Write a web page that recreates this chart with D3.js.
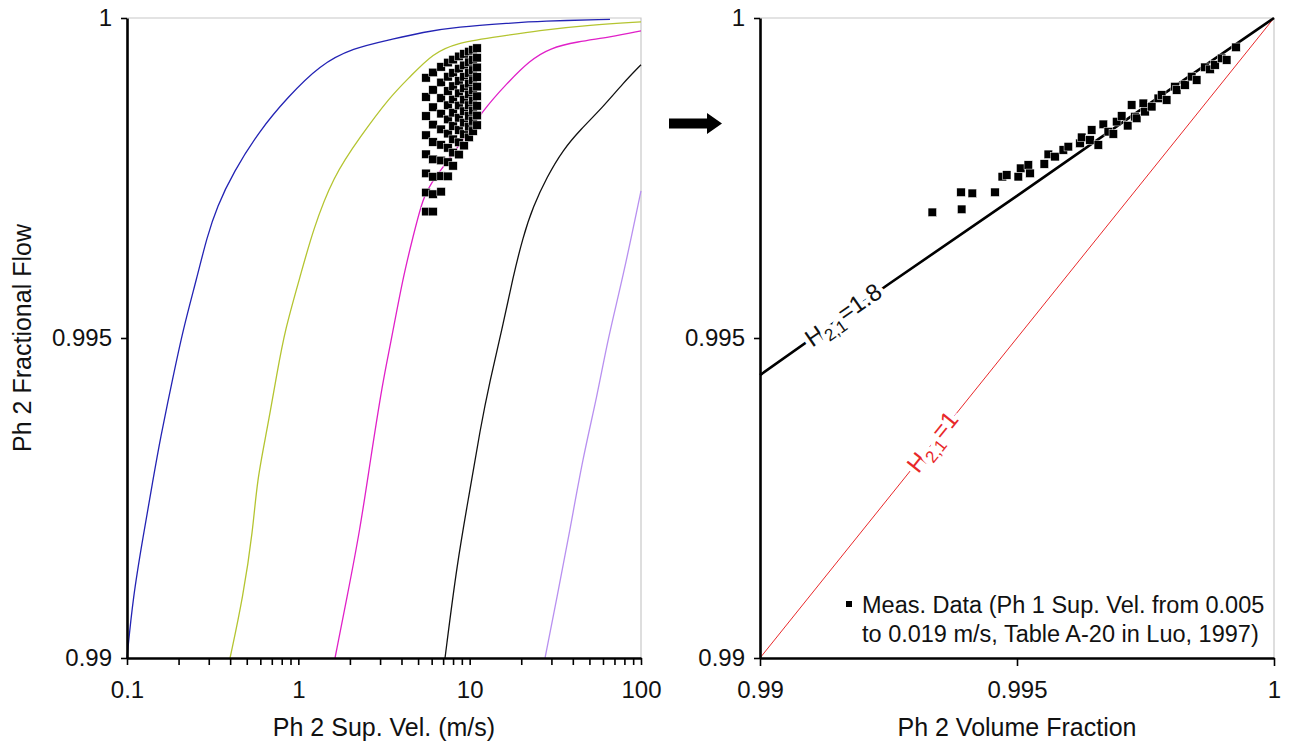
<!DOCTYPE html>
<html>
<head>
<meta charset="utf-8">
<script src="https://cdn.jsdelivr.net/npm/d3@7"></script>
<style>
  body { margin: 0; background: #fff; }
  text { font-family: "Liberation Sans", Arial, sans-serif; fill: #111; }
</style>
</head>
<body>
<svg id="chart" width="1293" height="746"></svg>
<script>
// ---- left chart: model curves, [Ph 2 sup. vel (m/s), Ph 2 fractional flow]
var blueCurve = [[0.1,0.99],[0.1084,0.99095],[0.124,0.99189],[0.1418,0.99278],[0.1558,0.99341],[0.1856,0.99439],
  [0.2123,0.99513],[0.2563,0.99595],[0.293,0.99658],[0.3351,0.99705],[0.4156,0.99758],[0.5974,0.99825],
  [0.8587,0.99875],[1.338,0.99927],[2.085,0.99953],[3.428,0.99966],[5.34,0.99978],[8.44,0.99986],
  [17.2,0.99992],[25.7,0.99995],[65.9,0.99998]];
var yellowCurve = [[0.3994,0.99],[0.4755,0.99095],[0.5437,0.992],[0.574,0.99278],[0.6566,0.99356],[0.7507,0.99445],
  [0.836,0.99513],[1.0226,0.99595],[1.2178,0.99669],[1.594,0.99752],[2.29,0.99814],[3.428,0.99877],
  [4.486,0.99908],[6.109,0.99945],[8.435,0.99961],[13.14,0.99969],[25.74,0.99981],[50.4,0.99989],[100,0.99994]];
var magentaCurve = [[1.637,0.99],[1.924,0.99095],[2.29,0.992],[2.62,0.99305],[3.12,0.99434],[3.428,0.99486],
  [4.082,0.99595],[4.67,0.99658],[5.34,0.9972],[6.109,0.99747],[8.782,0.99802],[11.96,0.99856],
  [16.52,0.99898],[22.5,0.99934],[29.43,0.99953],[42.31,0.99963],[65.94,0.9997],[100,0.9998]];
var blackCurve = [[7.18,0.99],[8.435,0.99148],[10.05,0.99263],[11.49,0.99356],[13.14,0.99434],[15.44,0.99513],
  [17.9,0.99595],[20.48,0.99658],[23.42,0.99705],[28.28,0.99752],[35.06,0.99794],[44.06,0.99825],
  [60.02,0.99861],[78.53,0.99898],[100,0.99927]];
var violetCurve = [[27.53,0.99],[32.34,0.99095],[38.51,0.992],[45.86,0.99314],[55.36,0.99408],[64.2,0.995],
  [78.53,0.99595],[100,0.9973]];

// ---- left chart: measured data, one column per Ph 2 sup. vel
var measVel = [5.56, 6.11, 6.81, 7.47, 8.0, 8.66, 9.27, 9.91, 10.46, 11.04];
var measFlow = [
  [0.999065,0.998766,0.998468,0.998169,0.997871,0.997572,0.997273,0.996975],
  [0.999149,0.998877,0.998606,0.998334,0.998062,0.997791,0.997519,0.997247,0.996975],
  [0.999236,0.998993,0.998749,0.998505,0.998261,0.998018,0.997774,0.99753,0.997286],
  [0.999304,0.999082,0.998859,0.998637,0.998415,0.998193,0.997971,0.997748,0.997526],
  [0.99935,0.999142,0.998935,0.998727,0.99852,0.998312,0.998105,0.997897,0.99769],
  [0.9994,0.999208,0.999016,0.998824,0.998633,0.998441,0.998249,0.998058,0.997866],
  [0.999439,0.99926,0.999081,0.998902,0.998723,0.998544,0.998365,0.998186,0.998006],
  [0.999475,0.999308,0.99914,0.998973,0.998805,0.998638,0.99847,0.998303,0.998135],
  [0.999503,0.999344,0.999185,0.999027,0.998868,0.998709,0.998551,0.998392,0.998233],
  [0.999529,0.999379,0.999228,0.999078,0.998928,0.998777,0.998627,0.998476,0.998326]
];

// ---- right chart: measured data, [Ph 2 volume fraction, Ph 2 fractional flow]
var volFrac = [0.993352,0.993911,0.993924,0.99413,0.994572,0.994714,0.9948,0.995025,0.995072,0.99522,
  0.995253,0.995531,0.995609,0.995739,0.995901,0.995998,0.996226,0.996259,0.99642,0.996453,
  0.996582,0.996679,0.996776,0.996874,0.99694,0.997037,0.997154,0.997231,0.997296,0.997329,
  0.997457,0.99749,0.997621,0.997749,0.997815,0.997912,0.998074,0.998107,0.998268,0.998399,
  0.998496,0.998658,0.998755,0.998852,0.998982,0.99908,0.999261];
var fracFlow = [0.996964,0.997277,0.997011,0.997261,0.997277,0.99752,0.997547,0.99752,0.997652,0.997703,
  0.997573,0.997719,0.99787,0.997833,0.997938,0.997989,0.998042,0.998136,0.998094,0.99825,
  0.998016,0.998339,0.998223,0.998188,0.99838,0.998469,0.998317,0.998641,0.998458,0.998433,
  0.998667,0.998536,0.998614,0.998745,0.998797,0.998719,0.998927,0.998875,0.998953,0.999083,
  0.999031,0.99923,0.999198,0.999266,0.99937,0.999344,0.999542];

// ---- right chart: model lines
var h18Line = [[0.99,0.99442],[0.9925,0.99584],[0.995,0.99722],[0.9975,0.99862],[1,1]];
var h1Line = [[0.99,0.99],[1,1]];

var svg = d3.select("#chart");
var top_ = 18, bottom = 658;

// scales
var xL = d3.scaleLog().domain([0.1, 100]).range([127, 641]);
var xR = d3.scaleLinear().domain([0.99, 1]).range([760, 1274]);
var y = d3.scaleLinear().domain([0.99, 1]).range([bottom, top_]);

// light plot area borders (top and right)
[[127, 641], [760, 1274]].forEach(function(r) {
  svg.append("path")
    .attr("d", "M" + r[0] + "," + top_ + "H" + r[1] + "V" + bottom)
    .attr("fill", "none").attr("stroke", "#c8c8c8").attr("stroke-width", 1.2);
});

// ---------- left chart
var lineL = d3.line().x(function(d){ return xL(d[0]); }).y(function(d){ return y(d[1]); })
  .curve(d3.curveBasis);

var curves = [
  {data: blueCurve, color: "#2323b4"},
  {data: yellowCurve, color: "#b4c430"},
  {data: magentaCurve, color: "#e020c8"},
  {data: blackCurve, color: "#111"},
  {data: violetCurve, color: "#b890f0"}
];
svg.append("g").selectAll("path").data(curves).enter().append("path")
  .attr("d", function(d){ return lineL(d.data); })
  .attr("fill", "none")
  .attr("stroke", function(d){ return d.color; })
  .attr("stroke-width", 1.3);

var measPts = [];
measVel.forEach(function(v, i) {
  measFlow[i].forEach(function(f) { measPts.push([v, f]); });
});
var sq = 8.5;
svg.append("g").selectAll("rect").data(measPts).enter().append("rect")
  .attr("x", function(d){ return xL(d[0]) - sq/2; })
  .attr("y", function(d){ return y(d[1]) - sq/2; })
  .attr("width", sq).attr("height", sq)
  .attr("fill", "#000").attr("stroke", "#fff").attr("stroke-width", 0.5);

// left axes
var yAxisL = d3.axisLeft(y).tickValues([0.99, 0.995, 1])
  .tickFormat(function(d){ return String(d); })
  .tickSize(6).tickPadding(9).tickSizeOuter(0);
var gyL = svg.append("g").attr("transform", "translate(127,0)").call(yAxisL);

var xAxisL = d3.axisBottom(xL).tickValues(xL.ticks())
  .tickFormat(function(d){ return [0.1, 1, 10, 100].indexOf(d) >= 0 ? String(d) : ""; })
  .tickSize(7).tickPadding(16).tickSizeOuter(0);
var gxL = svg.append("g").attr("transform", "translate(0," + bottom + ")").call(xAxisL);

// ---------- right chart
var lineR = d3.line().x(function(d){ return xR(d[0]); }).y(function(d){ return y(d[1]); });

svg.append("path").attr("d", lineR(h1Line))
  .attr("fill", "none").attr("stroke", "#e8282a").attr("stroke-width", 1);
svg.append("path").attr("d", lineR(h18Line))
  .attr("fill", "none").attr("stroke", "#000").attr("stroke-width", 2.6);

var rightPts = volFrac.map(function(a, i){ return [a, fracFlow[i]]; });
svg.append("g").selectAll("rect").data(rightPts).enter().append("rect")
  .attr("x", function(d){ return xR(d[0]) - sq/2; })
  .attr("y", function(d){ return y(d[1]) - sq/2; })
  .attr("width", sq).attr("height", sq)
  .attr("fill", "#000").attr("stroke", "#fff").attr("stroke-width", 0.5);

// line labels, rotated along the lines with a white halo cutting the line
function lineLabel(a, f, slopeLine, big, color) {
  var p0 = [xR(slopeLine[0][0]), y(slopeLine[0][1])];
  var p1 = [xR(slopeLine[slopeLine.length-1][0]), y(slopeLine[slopeLine.length-1][1])];
  var ang = Math.atan2(p1[1] - p0[1], p1[0] - p0[0]) * 180 / Math.PI;
  var t = svg.append("text")
    .attr("transform", "translate(" + xR(a) + "," + y(f) + ") rotate(" + ang + ")")
    .attr("text-anchor", "middle").attr("dy", "0.35em")
    .style("font-size", "24px")
    .style("fill", color)
    .attr("stroke", "#fff").attr("stroke-width", 9).attr("paint-order", "stroke");
  t.append("tspan").text("H");
  t.append("tspan").attr("dy", "0.3em").style("font-size", "17px").text("2,1");
  t.append("tspan").attr("dy", "-0.3em").text(big);
}
lineLabel(0.99163, 0.99535, h18Line, "=1.8", "#111");
lineLabel(0.99337, 0.99337, h1Line, "=1", "#e8282a");

// right axes
var yAxisR = d3.axisLeft(y).tickValues([0.99, 0.995, 1])
  .tickFormat(function(d){ return String(d); })
  .tickSize(6).tickPadding(9).tickSizeOuter(0);
var gyR = svg.append("g").attr("transform", "translate(760,0)").call(yAxisR);

var xAxisR = d3.axisBottom(xR).tickValues([0.99, 0.995, 1])
  .tickFormat(function(d){ return String(d); })
  .tickSize(8).tickPadding(15).tickSizeOuter(0);
var gxR = svg.append("g").attr("transform", "translate(0," + bottom + ")").call(xAxisR);

[gyL, gxL, gyR, gxR].forEach(function(g) {
  g.select(".domain").attr("stroke", "#000").attr("stroke-width", 2.6);
  g.selectAll(".tick line").attr("stroke", "#000").attr("stroke-width", 1.6);
  g.selectAll(".tick text").style("font-size", "24px").style("fill", "#111")
    .style("font-family", "'Liberation Sans', Arial, sans-serif");
});

// axis titles
svg.append("text").attr("x", 384).attr("y", 736).attr("text-anchor", "middle")
  .style("font-size", "25px").text("Ph 2 Sup. Vel. (m/s)");
svg.append("text").attr("x", 1017).attr("y", 736).attr("text-anchor", "middle")
  .style("font-size", "25px").text("Ph 2 Volume Fraction");
svg.append("text").attr("transform", "translate(31,338) rotate(-90)").attr("text-anchor", "middle")
  .style("font-size", "25px").text("Ph 2 Fractional Flow");

// legend
svg.append("rect").attr("x", 846).attr("y", 601).attr("width", 6).attr("height", 6).attr("fill", "#000");
svg.append("text").attr("x", 862).attr("y", 613).style("font-size", "23.5px")
  .text("Meas. Data (Ph 1 Sup. Vel. from 0.005");
svg.append("text").attr("x", 862).attr("y", 642).style("font-size", "23.5px")
  .text("to 0.019 m/s, Table A-20  in Luo, 1997)");

// arrow between the two charts
svg.append("path")
  .attr("d", "M669,118.5 H707 V113 L722,123.5 L707,134 V128.5 H669 Z")
  .attr("fill", "#000");
</script>
</body>
</html>
